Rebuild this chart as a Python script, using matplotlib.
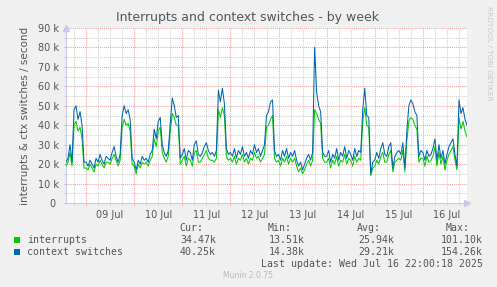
import numpy as np
import pandas as pd
import matplotlib
matplotlib.use('Agg')
import matplotlib.pyplot as plt
import matplotlib.dates as mdates
from matplotlib.patches import Rectangle
from matplotlib.ticker import MultipleLocator, FuncFormatter

W, H = 497, 287
BG = '#F0F0F0'
TXT = '#555555'
GREEN = '#00CC00'
BLUE = '#0066B3'
MGRID = '#F5A0A0'
GRID = '#D0D0D0'
AXIS = '#C8C8F0'

# hourly samples, thousands per second, Jul 08 14:00 -> Jul 16 22:00
start = '2025-07-08 14:00'
ctx_k = [
    21, 23, 30, 21, 48, 50, 43, 47, 40, 21,                                                  # 08 Jul
    21, 19, 22, 20, 18, 23, 21, 25, 22, 20, 24, 23, 22, 26, 29, 24, 21, 25, 45, 50, 46, 48, 43, 23,  # 09 Jul
    21, 17, 22, 20, 24, 22, 23, 21, 25, 27, 38, 33, 42, 44, 30, 26, 24, 27, 41, 54, 50, 44, 45, 23,  # 10 Jul
    25, 28, 22, 27, 26, 22, 30, 32, 25, 24, 26, 29, 31, 27, 25, 26, 24, 27, 58, 52, 59, 51, 28, 25,  # 11 Jul
    26, 24, 28, 23, 27, 25, 29, 24, 26, 23, 27, 25, 30, 26, 28, 24, 27, 30, 45, 47, 52, 53, 27, 24,  # 12 Jul
    25, 22, 27, 24, 28, 23, 26, 24, 27, 22, 19, 21, 17, 20, 23, 25, 22, 26, 80, 57, 50, 47, 26, 24,  # 13 Jul
    24, 27, 21, 25, 23, 28, 22, 26, 24, 29, 23, 27, 25, 22, 28, 24, 27, 26, 48, 59, 45, 44, 15, 21,  # 14 Jul
    22, 26, 23, 28, 31, 25, 24, 29, 31, 18, 24, 26, 27, 25, 31, 18, 37, 50, 53, 51, 47, 45, 24, 27,  # 15 Jul
    26, 22, 27, 24, 25, 28, 33, 22, 30, 23, 27, 20, 25, 29, 31, 33, 25, 19, 53, 46, 49, 43, 40,      # 16 Jul
]
intr_k = [
    19, 21, 26, 19, 40, 42, 37, 39, 33, 18,
    18, 17, 20, 18, 16, 20, 19, 22, 20, 18, 21, 21, 20, 23, 25, 22, 19, 22, 39, 43, 40, 41, 37, 20,
    19, 15, 20, 18, 21, 20, 21, 19, 22, 24, 33, 29, 37, 39, 26, 23, 21, 24, 37, 46, 44, 40, 40, 20,
    22, 24, 19, 23, 22, 19, 26, 27, 21, 21, 23, 25, 27, 23, 22, 22, 21, 23, 48, 44, 49, 45, 24, 22,
    23, 21, 24, 20, 23, 22, 25, 21, 23, 20, 23, 22, 26, 23, 24, 21, 23, 25, 39, 40, 43, 45, 23, 21,
    22, 19, 23, 21, 24, 20, 23, 21, 23, 19, 16, 18, 15, 17, 20, 22, 19, 22, 48, 46, 43, 41, 23, 21,
    21, 23, 18, 22, 20, 24, 19, 22, 21, 25, 20, 23, 22, 19, 24, 21, 23, 22, 42, 49, 40, 39, 14, 18,
    19, 22, 20, 24, 26, 21, 21, 25, 27, 16, 21, 22, 23, 22, 27, 16, 32, 42, 44, 43, 40, 38, 21, 23,
    23, 19, 24, 21, 22, 24, 29, 19, 26, 20, 24, 17, 22, 25, 27, 29, 22, 17, 44, 38, 42, 37, 34,
]

series_names = ['interrupts', 'context switches']
series_colors = [GREEN, BLUE]
cur_vals = ['34.47k', '40.25k']
min_vals = ['13.51k', '14.38k']
avg_vals = ['25.94k', '29.21k']
max_vals = ['101.10k', '154.26k']
last_update = 'Last update: Wed Jul 16 22:00:18 2025'

times = pd.date_range(start, periods=len(ctx_k), freq='h')


def px(x, y):
    return x / W, 1 - y / H


fig = plt.figure(figsize=(W / 100, H / 100), dpi=100, facecolor=BG)
ax = fig.add_axes([66 / W, 84 / H, (467 - 66) / W, (203 - 28) / H])
ax.set_facecolor('white')

ax.plot(times, intr_k, color=GREEN, lw=0.75, zorder=3)
ax.plot(times, ctx_k, color=BLUE, lw=0.75, zorder=4)

ax.set_xlim(times[0], times[-1])
ax.set_ylim(0, 90)

# grid: red at midnight / 10k, grey every 6h / 5k
ax.xaxis.set_major_locator(mdates.DayLocator())
ax.xaxis.set_major_formatter(FuncFormatter(lambda v, p: ''))
ax.xaxis.set_minor_locator(mdates.HourLocator(byhour=[6, 12, 18]))
ax.xaxis.set_minor_formatter(FuncFormatter(
    lambda v, p: mdates.num2date(v).strftime('%d %b') if mdates.num2date(v).hour == 12 else ''))
ax.yaxis.set_major_locator(MultipleLocator(10))
ax.yaxis.set_minor_locator(MultipleLocator(5))
ax.yaxis.set_major_formatter(FuncFormatter(lambda v, p: '0 ' if v == 0 else f'{v:.0f} k'))

ax.grid(which='major', color=MGRID, linestyle=(0, (1, 1)), lw=0.75, zorder=1)
ax.grid(which='minor', color=GRID, linestyle=(0, (1, 1)), lw=0.75, zorder=0)

ax.tick_params(which='both', length=1.5, width=0.75, labelsize=7, labelcolor=TXT)
ax.tick_params(which='major', color=MGRID)
ax.tick_params(which='minor', color=GRID)
ax.tick_params(axis='y', pad=3.5)
ax.tick_params(axis='x', pad=2.5)

for s in ['top', 'right']:
    ax.spines[s].set_visible(False)
for s in ['left', 'bottom']:
    ax.spines[s].set_color(AXIS)
    ax.spines[s].set_linewidth(0.8)
ax.plot([1.0], [0], marker='>', ms=4, color=AXIS, transform=ax.transAxes, clip_on=False)
ax.plot([0], [1.0], marker='^', ms=4, color=AXIS, transform=ax.transAxes, clip_on=False)

ax.set_ylabel('interrupts & ctx switches / second', fontsize=7.5, color=TXT, labelpad=6)

fig.text(*px(248, 18), 'Interrupts and context switches - by week',
         ha='center', va='center', fontsize=9, color=TXT)
fig.text(*px(489, 53), 'RRDTOOL / TOBI OETIKER', rotation=270,
         ha='center', va='center', fontsize=5.3, color='#C8C8C8')

# legend block
mono = dict(family='DejaVu Sans Mono', fontsize=7.1, color=TXT, va='center')
for label, xr in zip(['Cur:', 'Min:', 'Avg:', 'Max:'], [203, 292, 381, 470]):
    fig.text(*px(xr, 228), label, ha='right', **mono)
rows_y = [239.7, 251.7]
for i, name in enumerate(series_names):
    y = rows_y[i]
    fig.patches.append(Rectangle(px(14, y + 3), 6 / W, 6 / H, transform=fig.transFigure,
                                 facecolor=series_colors[i], edgecolor='none'))
    fig.text(*px(27, y), name, ha='left', **mono)
    for vals, xr in zip([cur_vals, min_vals, avg_vals, max_vals], [216, 305, 394, 483]):
        fig.text(*px(xr, y), vals[i], ha='right', **mono)
fig.text(*px(483, 263.7), last_update, ha='right', **mono)
fig.text(*px(248, 276), 'Munin 2.0.75', ha='center', va='center', fontsize=5.5, color='#BBBBBB')

fig.savefig('out.png', dpi=100, facecolor=BG)
